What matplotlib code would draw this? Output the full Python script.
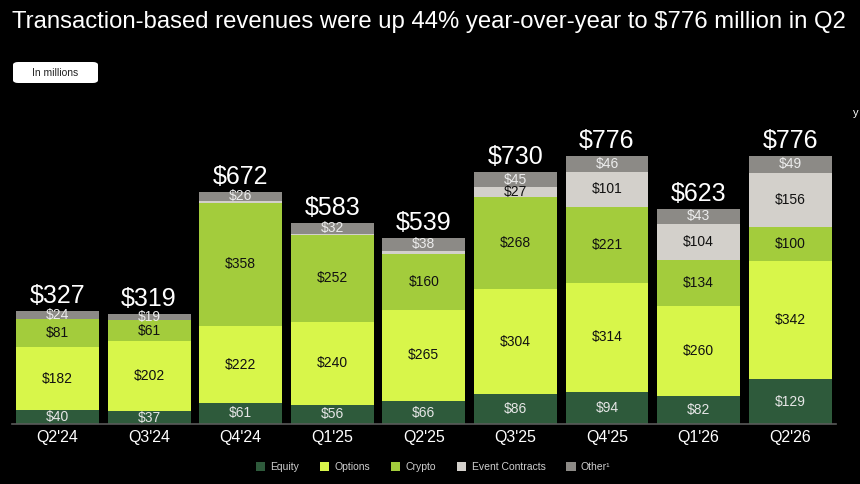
import matplotlib
matplotlib.use("Agg")
import matplotlib.pyplot as plt
from matplotlib.patches import FancyBboxPatch, Rectangle
import numpy as np

quarters = ["Q2'24", "Q3'24", "Q4'24", "Q1'25", "Q2'25", "Q3'25", "Q4'25", "Q1'26", "Q2'26"]
equity = [40, 37, 61, 56, 66, 86, 94, 82, 129]
options = [182, 202, 222, 240, 265, 304, 314, 260, 342]
crypto = [81, 61, 358, 252, 160, 268, 221, 134, 100]
event_contracts = [0, 0, 5, 3, 10, 27, 101, 104, 156]
other = [24, 19, 26, 32, 38, 45, 46, 43, 49]
totals = [327, 319, 672, 583, 539, 730, 776, 623, 776]
event_labeled = [False, False, False, False, False, True, True, True, True]

series = [
    ("Equity", equity, "#2e5a3b", "#e6e6e6"),
    ("Options", options, "#d8f64a", "#111111"),
    ("Crypto", crypto, "#a3cc3c", "#111111"),
    ("Event Contracts", event_contracts, "#d3d0cb", "#111111"),
    ("Other\u00b9", other, "#8c8a86", "#ececec"),
]

plt.rcParams['font.family'] = ['Liberation Sans', 'DejaVu Sans']

W, H = 860, 484
fig = plt.figure(figsize=(W / 100, H / 100), dpi=100, facecolor="black")

# axes placement in pixels
x_left, x_right = 11.7, 836.0
y_base = 424.0
ymax = 850
px_per_unit = 268.0 / 776
ax_h = ymax * px_per_unit
ax = fig.add_axes([x_left / W, (H - y_base) / H, (x_right - x_left) / W, ax_h / H])
ax.set_facecolor("black")
ax.set_xlim(-0.5, len(quarters) - 0.5)
ax.set_ylim(0, ymax)
for s in ax.spines.values():
    s.set_visible(False)
ax.spines['bottom'].set_visible(True)
ax.spines['bottom'].set_color("#5a5a5a")
ax.spines['bottom'].set_linewidth(1.2)
ax.set_yticks([])
x = np.arange(len(quarters))
ax.set_xticks(x)
ax.set_xticklabels(quarters, color="white", fontsize=11.5)
ax.tick_params(axis='x', length=0, pad=4)

bottom = np.zeros(len(quarters))
for name, vals, col, tcol in series:
    vals = np.array(vals, dtype=float)
    ax.bar(x, vals, bottom=bottom, width=0.905, color=col, edgecolor="none", label=name)
    for i, v in enumerate(vals):
        if v <= 0:
            continue
        if name == "Event Contracts" and not event_labeled[i]:
            continue
        ax.text(x[i], bottom[i] + v / 2, f"${int(v)}", ha="center", va="center",
                color=tcol, fontsize=10)
    bottom += vals

for i, t in enumerate(totals):
    ax.text(x[i], bottom[i] + 8, f"${t}", ha="center", va="bottom", color="white", fontsize=18)

# Title
fig.text(12 / W, 1 - 28 / H, "Transaction-based revenues were up 44% year-over-year to $776 million in Q2",
         color="white", fontsize=17.2, ha="left", va="baseline")

# "In millions" box
box = FancyBboxPatch((13 / W, 1 - 83 / H), 85 / W, 21 / H,
                     boxstyle="round,pad=0,rounding_size=0.006",
                     transform=fig.transFigure, facecolor="white", edgecolor="none")
fig.patches.append(box)
fig.text(55.5 / W, 1 - 72.5 / H, "In millions", color="#222222", fontsize=7.5, ha="center", va="center")

# clipped text at the right edge
fig.text(853 / W, 1 - 113 / H, "y", color="white", fontsize=8, ha="left", va="center")

# Legend
handles = [Rectangle((0, 0), 1, 1, facecolor=c, edgecolor="none") for _, _, c, _ in series]
labels = [n for n, _, _, _ in series]
leg = fig.legend(handles, labels, loc="center", bbox_to_anchor=(433 / W, 1 - 467 / H), ncol=5,
                 frameon=False, fontsize=7.5, labelcolor="#cfcfcf", handlelength=0.9, handleheight=0.9,
                 handletextpad=0.5, columnspacing=2.0)

fig.savefig("out.png", dpi=100, facecolor="black")
